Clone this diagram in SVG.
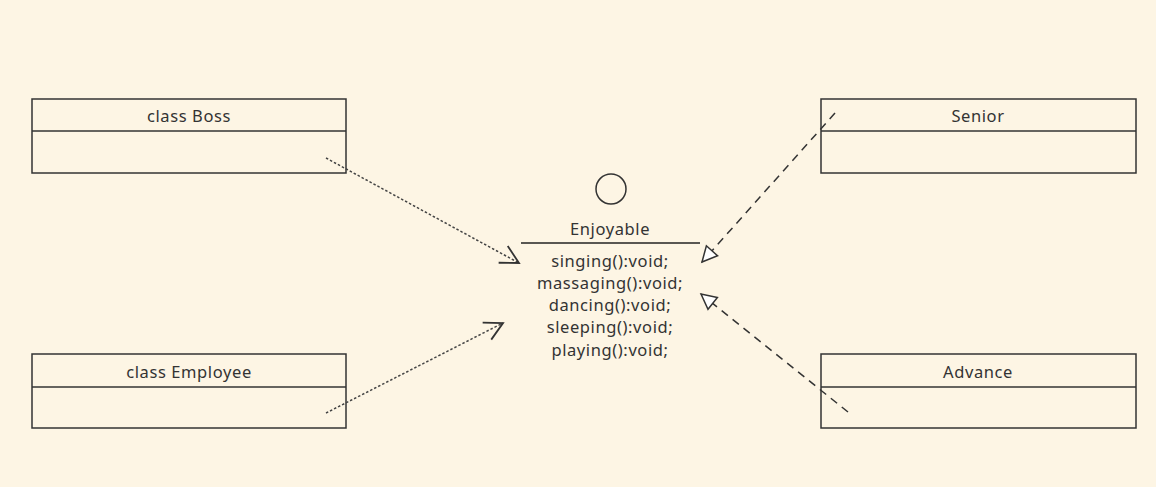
<svg xmlns="http://www.w3.org/2000/svg" width="1156" height="487" viewBox="0 0 1156 487">
<defs>
<style>
.box{fill:none;stroke:#333;stroke-width:1.5}
.t{font-family:"Noto Sans","Open Sans",sans-serif;font-size:16.5px;letter-spacing:0.6px;fill:#333;text-anchor:middle}
.dot{fill:none;stroke:#444;stroke-width:1.5;stroke-dasharray:2.5 2}
.dash{fill:none;stroke:#333;stroke-width:1.5;stroke-dasharray:8 6}
</style>
<marker id="open" markerUnits="userSpaceOnUse" markerWidth="30" markerHeight="30" refX="0" refY="0" viewBox="-25 -15 30 30" orient="auto" overflow="visible">
<path d="M-18,-9.5 L0,0 L-18,9.5" fill="none" stroke="#333" stroke-width="1.8"/>
</marker>
<marker id="tri" markerUnits="userSpaceOnUse" markerWidth="30" markerHeight="30" refX="0" refY="0" viewBox="-25 -15 30 30" orient="auto" overflow="visible">
<path d="M0,0 L-15,-7.5 L-15,7.5 Z" fill="#fff" stroke="#333" stroke-width="1.5"/>
</marker>
</defs>
<rect width="1156" height="487" fill="#FDF5E4"/>
<g id="boss">
<rect class="box" x="32" y="99" width="314" height="74"/>
<line class="box" x1="32" y1="131" x2="346" y2="131"/>
<text class="t" x="189" y="122">class Boss</text>
</g>
<g id="employee">
<rect class="box" x="32" y="354" width="314" height="74"/>
<line class="box" x1="32" y1="387" x2="346" y2="387"/>
<text class="t" x="189" y="378">class Employee</text>
</g>
<g id="senior">
<rect class="box" x="821" y="99" width="315" height="74"/>
<line class="box" x1="821" y1="131" x2="1136" y2="131"/>
<text class="t" x="978" y="122">Senior</text>
</g>
<g id="advance">
<rect class="box" x="821" y="354" width="315" height="74"/>
<line class="box" x1="821" y1="387" x2="1136" y2="387"/>
<text class="t" x="978" y="378">Advance</text>
</g>
<g id="enjoyable">
<circle cx="611" cy="189" r="15" fill="none" stroke="#333" stroke-width="1.5"/>
<text class="t" x="610" y="235">Enjoyable</text>
<line x1="521" y1="243" x2="700" y2="243" stroke="#222" stroke-width="1.5"/>
<text class="t" x="610" y="267">singing():void;</text>
<text class="t" x="610" y="289">massaging():void;</text>
<text class="t" x="610" y="311">dancing():void;</text>
<text class="t" x="610" y="333">sleeping():void;</text>
<text class="t" x="610" y="356">playing():void;</text>
</g>
<g id="connectors">
<line class="dot" x1="326" y1="158" x2="519" y2="263" marker-end="url(#open)"/>
<line class="dot" x1="326" y1="413" x2="503" y2="323" marker-end="url(#open)"/>
<line class="dash" x1="835" y1="113" x2="702" y2="262" marker-end="url(#tri)"/>
<line class="dash" x1="848" y1="412" x2="701" y2="294" marker-end="url(#tri)"/>
</g>
</svg>
